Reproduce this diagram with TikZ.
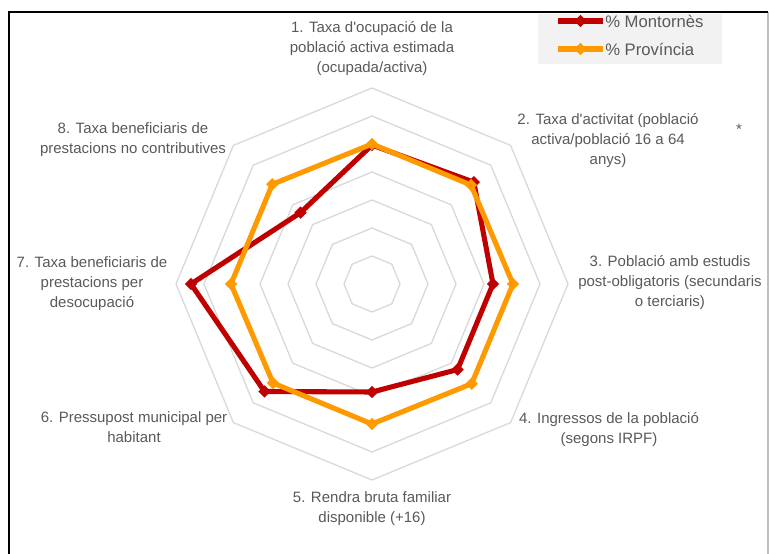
\documentclass[tikz,border=0pt]{standalone}
\usepackage{fontspec}
\setmainfont{Liberation Sans}
\usetikzlibrary{calc,shapes.geometric}
\definecolor{mred}{HTML}{C00000}
\definecolor{porange}{HTML}{FF9900}
\definecolor{gridgrey}{HTML}{D9D9D9}
\definecolor{txt}{HTML}{595959}
\definecolor{legbg}{HTML}{F2F2F2}
\begin{document}
\begin{tikzpicture}[x=0.75pt,y=-0.75pt,
  lbl/.style={font=\fontsize{11.25pt}{15pt}\selectfont, text=txt, align=center, inner sep=0pt},
  legtxt/.style={font=\fontsize{12.5pt}{14pt}\selectfont, text=txt, inner sep=0pt, anchor=west},
  ring/.style={draw=gridgrey, line width=1pt},
  serie/.style={line width=3.8pt, line join=round},
  mk/.style={diamond, inner sep=0pt, minimum width=9.5pt, minimum height=9.5pt}]
\useasboundingbox (0,0) rectangle (769,554);
% frame
\draw[gray!50, line width=1pt] (768,12) -- (768,554);
\draw[black, line width=1.3pt] (9,554) -- (9,12) -- (768,12);
% legend
\fill[legbg] (538,13.5) rectangle (722,64);
\coordinate (la) at (558,21); \coordinate (lb) at (603,21);
\draw[serie, draw=mred] (la) -- (lb);
\node[mk, fill=mred] (lm) at ($(la)!0.5!(lb)$) {};
\node[legtxt] (lt1) at (605,21) {\% Montornès};
\coordinate (lc) at (558,49); \coordinate (ld) at (603,49);
\draw[serie, draw=porange] (lc) -- (ld);
\node[mk, fill=porange] (lo) at ($(lc)!0.5!(ld)$) {};
\node[legtxt] (lt2) at (605,49) {\% Província};
% radar
\coordinate (c) at (372,284);
\begin{scope}[shift={(c)}]
  \foreach \r in {28,56,...,196} {
    \draw[ring] (-90:\r) -- (-45:\r) -- (0:\r) -- (45:\r) -- (90:\r) -- (135:\r) -- (180:\r) -- (225:\r) -- cycle;
  }
  \foreach \i/\r in {1/139,2/144,3/121,4/121,5/108,6/152,7/181,8/101}
    \coordinate (m\i) at ({45*\i-135}:\r);
  \foreach \i/\r in {1/140,2/140,3/141,4/141,5/140,6/140,7/141,8/141}
    \coordinate (p\i) at ({45*\i-135}:\r);
\end{scope}
\draw[serie, draw=mred] (m1) -- (m2) -- (m3) -- (m4) -- (m5) -- (m6) -- (m7) -- (m8) -- cycle;
\foreach \i in {1,...,8} \node[mk, fill=mred] (M\i) at (m\i) {};
\draw[serie, draw=porange] (p1) -- (p2) -- (p3) -- (p4) -- (p5) -- (p6) -- (p7) -- (p8) -- cycle;
\foreach \i in {1,...,8} \node[mk, fill=porange] (P\i) at (p\i) {};
% labels
\node[lbl] (t1) at (372,49) {1. Taxa d\textquotesingle ocupació de la\\població activa estimada\\(ocupada/activa)};
\node[lbl] (t2) at (608,141) {2. Taxa d\textquotesingle activitat (població\\activa/població 16 a 64\\anys)};
\node[lbl] (t3) at (670,283) {3. Població amb estudis\\post-obligatoris (secundaris\\o terciaris)};
\node[lbl] (t4) at (609,430) {4. Ingressos de la població\\(segons IRPF)};
\node[lbl] (t5) at (372,508.5) {5. Rendra bruta familiar\\disponible (+16)};
\node[lbl] (t6) at (134,427.5) {6. Pressupost municipal per\\habitant};
\node[lbl] (t7) at (92,284) {7. Taxa beneficiaris de\\prestacions per\\desocupació};
\node[lbl] (t8) at (133,140) {8. Taxa beneficiaris de\\prestacions no contributives};
\node[lbl, anchor=base] (ast) at (739,134) {*};
\end{tikzpicture}
\end{document}
